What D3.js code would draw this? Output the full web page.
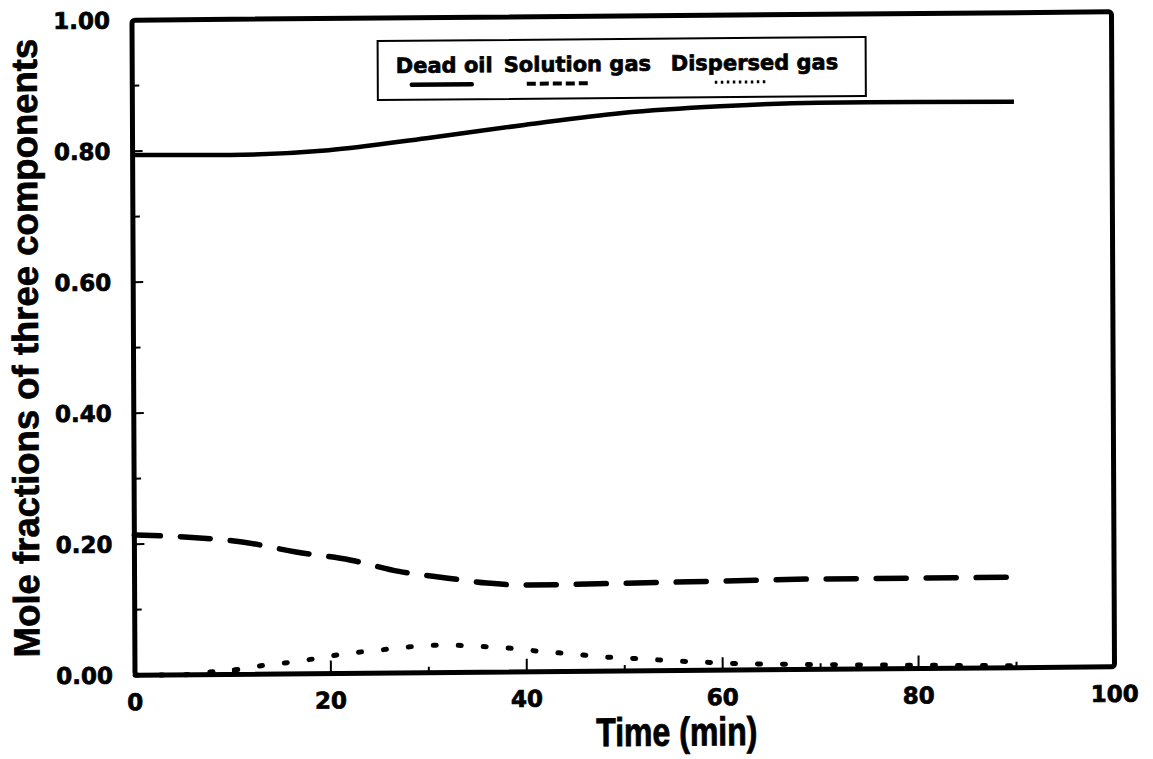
<!DOCTYPE html>
<html><head><meta charset="utf-8">
<script src="https://cdn.jsdelivr.net/npm/d3@7"></script>
<style>body{margin:0;background:#fff}</style>
</head><body>
<svg id="c" width="1153" height="759"></svg>
<script>
// ---- data ----
const deadOilTime = [0, 10, 20, 30, 40, 50, 60, 70, 80, 90];
const deadOilFrac = [0.794, 0.793, 0.799, 0.816, 0.835, 0.852, 0.861, 0.865, 0.865, 0.864];

const solGasTime = [0, 5.5, 11, 16.5, 22, 27, 32, 36, 40, 50, 60, 70, 80, 90];
const solGasFrac = [0.214, 0.210, 0.202, 0.186, 0.173, 0.155, 0.144, 0.136, 0.1325, 0.134, 0.136, 0.138, 0.138, 0.138];

const dispGasTime = [0, 5, 8.4, 10.9, 13.5, 16.1, 18.9, 21.4, 24.2, 29.3, 32, 34.3, 36.9, 39.1, 42, 44.6, 46.9, 49.6, 52.1, 54.7, 57.2, 60, 62.6, 65, 70, 75, 80, 85, 90];
const dispGasFrac = [0, 0, 0.005, 0.008, 0.014, 0.018, 0.024, 0.030, 0.034, 0.041, 0.042, 0.040, 0.038, 0.035, 0.030, 0.027, 0.023, 0.020, 0.018, 0.015, 0.013, 0.011, 0.009, 0.0087, 0.007, 0.006, 0.005, 0.004, 0.003];

const xTickValues = [0, 20, 40, 60, 80, 100];
const xTickLabels = ["0", "20", "40", "60", "80", "100"];
const yTickValues = [0, 0.2, 0.4, 0.6, 0.8, 1.0];
const yTickLabels = ["0.00", "0.20", "0.40", "0.60", "0.80", "1.00"];
const legendNames = ["Dead oil", "Solution gas", "Dispersed gas"];
const xTitle = "Time (min)";
const yTitle = "Mole fractions of three components";

// ---- layout ----
const L = 133.5, R = 1113, T = 16, B = 671;
const svg = d3.select("#c");
// slight skew of the scanned original
const g = svg.append("g").attr("transform", "matrix(1,-0.0085,0.0046,1,-1.587,5.2955)");

const x = d3.scaleLinear().domain([0, 100]).range([L, R]);
const y = d3.scaleLinear().domain([0, 1]).range([B, T]);

const labelFont = "'DejaVu Sans', sans-serif";
const titleFont = "'Liberation Sans', Arial, sans-serif";

const heavy = sel => sel.style("font-weight", "bold")
  .attr("stroke", "#000").attr("stroke-width", 0.7).attr("fill", "#000");

// ticks (inward)
const gx = g.append("g").attr("transform", `translate(0,${B})`);
gx.selectAll("line.t").data(d3.range(10, 100, 10)).enter().append("line")
  .attr("x1", d => x(d)).attr("x2", d => x(d))
  .attr("y1", 0).attr("y2", d => d % 20 === 0 ? -13 : -6)
  .attr("stroke", "#000").attr("stroke-width", 2);
gx.selectAll("text").data(xTickValues).enter().append("text")
  .attr("x", d => x(d)).attr("y", 35)
  .attr("text-anchor", "middle")
  .style("font-family", labelFont).style("font-size", "23px")
  .call(heavy)
  .text((d, i) => xTickLabels[i]);

const gy = g.append("g").attr("transform", `translate(${L},0)`);
gy.selectAll("line.t").data(d3.range(0.1, 1.0, 0.1)).enter().append("line")
  .attr("x1", 0).attr("x2", (d) => Math.round(d * 10) % 2 === 0 ? 10 : 7)
  .attr("y1", d => y(d)).attr("y2", d => y(d))
  .attr("stroke", "#000").attr("stroke-width", 2);
gy.selectAll("text").data(yTickValues).enter().append("text")
  .attr("x", -22).attr("y", d => y(d)).attr("dy", "0.36em")
  .attr("text-anchor", "end")
  .style("font-family", labelFont).style("font-size", "23px")
  .call(heavy)
  .text((d, i) => yTickLabels[i]);

// frame
g.append("rect").attr("x", L).attr("y", T).attr("width", R - L).attr("height", B - T)
  .attr("fill", "none").attr("stroke", "#000").attr("stroke-width", 5)
  .attr("rx", 3);

// titles
g.append("text").attr("transform", "translate(675,746) scale(1,1.25)").attr("text-anchor", "middle")
  .style("font-family", titleFont).style("font-size", "32px")
  .call(heavy)
  .text(xTitle);
g.append("text").attr("transform", "translate(38,343) rotate(-90)").attr("text-anchor", "middle")
  .style("font-family", titleFont).style("font-size", "36.5px")
  .call(heavy)
  .text(yTitle);

// series
const line = d3.line().x(d => x(d[0])).y(d => y(d[1])).curve(d3.curveMonotoneX);
const pts = (ts, vs) => ts.map((t, i) => [t, vs[i]]);

g.append("path").datum(pts(deadOilTime, deadOilFrac)).attr("d", line)
  .attr("fill", "none").attr("stroke", "#000").attr("stroke-width", 4.5);
g.append("path").datum(pts(solGasTime, solGasFrac)).attr("d", line)
  .attr("fill", "none").attr("stroke", "#000").attr("stroke-width", 5.5)
  .attr("stroke-linecap", "round").attr("stroke-dasharray", "30 20").attr("stroke-dashoffset", 4);
g.append("path").datum(pts(dispGasTime, dispGasFrac)).attr("d", line)
  .attr("fill", "none").attr("stroke", "#000").attr("stroke-width", 5)
  .attr("stroke-linecap", "round").attr("stroke-dasharray", "3 22");

// legend
const lg = g.append("g");
lg.append("rect").attr("x", 379).attr("y", 39).attr("width", 488).attr("height", 59)
  .attr("fill", "#fff").attr("stroke", "#000").attr("stroke-width", 2);
const legX = [397, 505, 672];
lg.selectAll("text").data(legendNames).enter().append("text")
  .attr("x", (d, i) => legX[i]).attr("y", 71)
  .style("font-family", labelFont).style("font-size", "21px")
  .call(heavy)
  .text(d => d);
const sampleX = [[413, 473], [528, 590], [716, 770]];
const sampleStyle = [{w: 4.5, da: null}, {w: 4, da: "9 4"}, {w: 3, da: "2.5 3.5"}];
sampleX.forEach((s, i) => {
  lg.append("path").datum([[s[0], 83], [s[1], 83]])
    .attr("d", d3.line())
    .attr("stroke", "#000").attr("stroke-width", sampleStyle[i].w)
    .attr("stroke-dasharray", sampleStyle[i].da)
    .attr("stroke-linecap", i === 0 ? "round" : "butt");
});
</script>
</body></html>
